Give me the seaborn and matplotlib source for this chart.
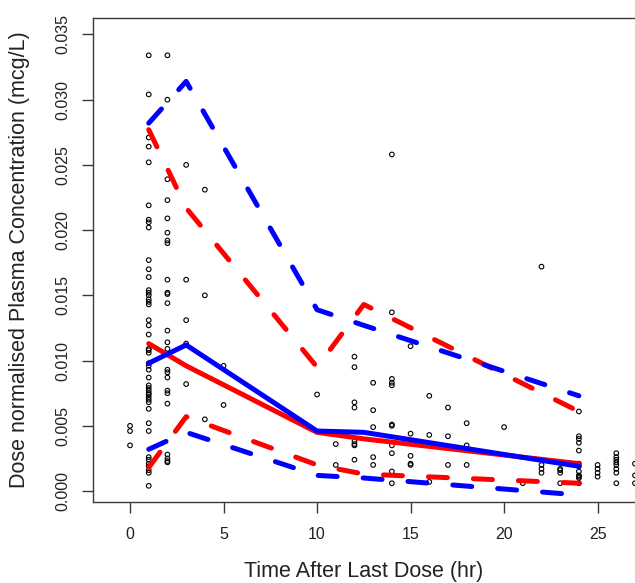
import matplotlib
matplotlib.use("Agg")
import matplotlib.pyplot as plt
import numpy as np
import pandas as pd
import seaborn as sns

# Observed dose-normalised concentrations, grouped by nominal sampling time (hr)
obs_group_time = [0, 1, 2, 3, 4, 5, 10, 11, 12, 13, 14, 15, 16, 17, 18,
                  20, 21, 22, 23, 24, 25, 26, 27]
obs_group_conc = [
    [0.0050, 0.0046, 0.0035],
    [0.0334, 0.0304, 0.0271, 0.0264, 0.0252, 0.0219, 0.0208, 0.0206, 0.0202,
     0.0177, 0.0170, 0.0164, 0.0154, 0.0152, 0.0150, 0.0147, 0.0145, 0.0143,
     0.0131, 0.0127, 0.0120, 0.0109, 0.0108, 0.0106, 0.0098, 0.0096, 0.0093,
     0.0087, 0.0081, 0.0079, 0.0077, 0.0075, 0.0074, 0.0072, 0.0070, 0.0068,
     0.0063, 0.0052, 0.0046, 0.0026, 0.0024, 0.0021, 0.0019, 0.0016, 0.0014,
     0.0004],
    [0.0334, 0.0300, 0.0239, 0.0223, 0.0209, 0.0198, 0.0192, 0.0190, 0.0162,
     0.0152, 0.0151, 0.0144, 0.0123, 0.0114, 0.0109, 0.0093, 0.0091, 0.0087,
     0.0077, 0.0075, 0.0067, 0.0028, 0.0025, 0.0023, 0.0022],
    [0.0250, 0.0162, 0.0131, 0.0113, 0.0082],
    [0.0231, 0.0150, 0.0055],
    [0.0096, 0.0066],
    [0.0074],
    [0.0036, 0.0020],
    [0.0103, 0.0095, 0.0068, 0.0064, 0.0038, 0.0036, 0.0035, 0.0024],
    [0.0083, 0.0062, 0.0049, 0.0026, 0.0020],
    [0.0258, 0.0137, 0.0086, 0.0083, 0.0081, 0.0051, 0.0050, 0.0035, 0.0029,
     0.0015, 0.0006],
    [0.0111, 0.0044, 0.0027, 0.0021, 0.0020],
    [0.0073, 0.0043, 0.0007],
    [0.0064, 0.0042, 0.0020],
    [0.0052, 0.0035, 0.0020],
    [0.0049],
    [0.0006],
    [0.0172, 0.0020, 0.0017, 0.0014],
    [0.0017, 0.0016, 0.0014, 0.0006],
    [0.0061, 0.0042, 0.0040, 0.0037, 0.0031, 0.0021, 0.0019, 0.0015, 0.0012,
     0.0011, 0.0010, 0.0006],
    [0.0020, 0.0017, 0.0014, 0.0011],
    [0.0029, 0.0026, 0.0024, 0.0022, 0.0020, 0.0017, 0.0014, 0.0006],
    [0.0021, 0.0012, 0.0006],
]

# Binned percentiles: observed (red) and simulated (blue)
bin_time = [1, 3, 10, 12.5, 24]
obs_median = [0.0113, 0.0096, 0.0045, 0.0040, 0.0021]
obs_p05 = [0.0018, 0.0057, 0.0020, 0.0013, 0.0006]
obs_p95 = [0.0277, 0.0217, 0.0095, 0.0143, 0.0061]
sim_median = [0.0098, 0.0112, 0.0046, 0.0045, 0.0019]
sim_p05 = [0.0032, 0.0045, 0.0012, 0.0010, -0.0003]
sim_p95 = [0.0282, 0.0314, 0.0139, 0.0127, 0.0073]

y_ticks = [0.000, 0.005, 0.010, 0.015, 0.020, 0.025, 0.030, 0.035]
x_ticks = [0, 5, 10, 15, 20, 25]

obs = pd.DataFrame({
    "time": [t for t, cs in zip(obs_group_time, obs_group_conc) for _ in cs],
    "conc": [c for cs in obs_group_conc for c in cs],
})
bins = pd.DataFrame({
    "time": bin_time,
    "obs_median": obs_median, "obs_p05": obs_p05, "obs_p95": obs_p95,
    "sim_median": sim_median, "sim_p05": sim_p05, "sim_p95": sim_p95,
})

sns.set_style("ticks")
plt.rcParams["font.family"] = ["Liberation Sans", "DejaVu Sans"]

W, H = 635, 583
fig = plt.figure(figsize=(W / 100, H / 100), dpi=100)
left, right, top, bottom = 93, 635, 18, 502
ax = fig.add_axes([left / W, 1 - bottom / H, (right - left) / W, (bottom - top) / H])

sns.scatterplot(data=obs, x="time", y="conc", ax=ax, marker="o", s=11,
                facecolor="none", edgecolor="black", linewidth=0.8, zorder=2)

LW = 3.6
dash = (0, (3.8, 5.2))
for col, color, ls in [("obs_median", "#ff0000", "-"), ("obs_p05", "#ff0000", dash),
                       ("obs_p95", "#ff0000", dash), ("sim_median", "#0000ff", "-"),
                       ("sim_p05", "#0000ff", dash), ("sim_p95", "#0000ff", dash)]:
    sns.lineplot(data=bins, x="time", y=col, ax=ax, color=color, linewidth=LW,
                 linestyle=ls, estimator=None, sort=False,
                 solid_capstyle="round", dash_capstyle="round",
                 solid_joinstyle="round", zorder=3)

ax.set_xlim(-1.98, 27.0)
ax.set_ylim(-0.00084, 0.03626)
ax.set_xticks(x_ticks)
ax.set_xticklabels([str(t) for t in x_ticks])
ax.set_yticks(y_ticks)
ax.set_yticklabels([f"{v:.3f}" for v in y_ticks], rotation=90, va="center")

spine_c = "#3a3a3a"
for side in ["left", "top", "bottom"]:
    ax.spines[side].set_color(spine_c)
    ax.spines[side].set_linewidth(1.0)
ax.spines["right"].set_visible(False)
ax.tick_params(axis="both", direction="out", length=8, width=1.0, color=spine_c,
               labelsize=11.5, labelcolor="#222222")
ax.tick_params(axis="x", pad=10)
ax.tick_params(axis="y", pad=8)

ax.set_xlabel("Time After Last Dose (hr)", fontsize=15.5, color="#222222")
ax.set_ylabel("Dose normalised Plasma Concentration (mcg/L)", fontsize=15.5,
              color="#222222")
ax.xaxis.label.set_va("center")
ax.yaxis.label.set_va("center")
ax.xaxis.set_label_coords(0.5, -(572 - bottom) / (bottom - top))
ax.yaxis.set_label_coords(-(left - 20) / (right - left), 0.5)

fig.savefig("out.png", dpi=100)
